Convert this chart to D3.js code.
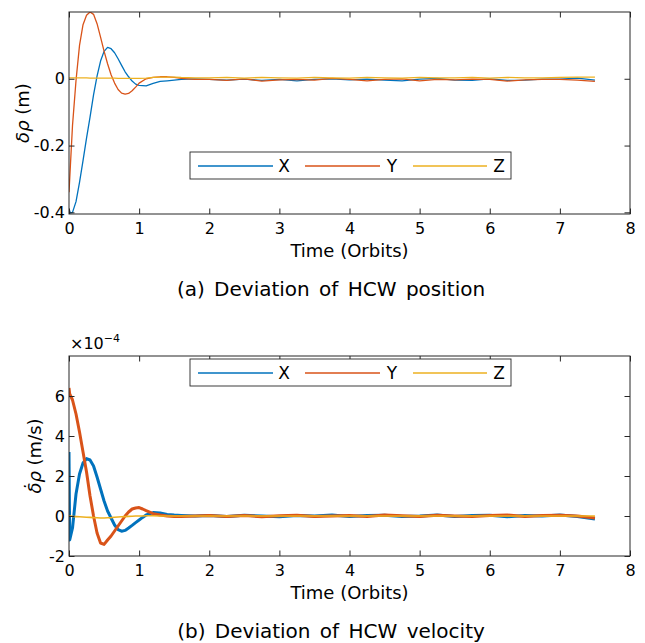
<!DOCTYPE html>
<html lang="en">
<head>
    <meta charset="UTF-8">
    <script src="https://d3js.org/d3.v7.min.js" charset="utf-8"></script>
    <title>HCW deviation</title>
    <style>
        body { margin: 0; background: #fff; }
        svg text { font-family: "DejaVu Sans", sans-serif; fill: #000; }
    </style>
</head>
<body>
<div id="vis"></div>
<script>
    // ---- data ----
    var seriesNames = ["X", "Y", "Z"],
        seriesColors = ["#0072BD", "#D95319", "#EDB120"],
        xTicks = [0, 1, 2, 3, 4, 5, 6, 7, 8];

    // (a) position deviation, metres
    var posTime = [0, 0.02, 0.05, 0.1, 0.15, 0.2, 0.25, 0.3, 0.35, 0.4, 0.45, 0.5, 0.55, 0.6, 0.65, 0.7, 0.75, 0.8, 0.85, 0.9, 0.95, 1.0, 1.1, 1.2, 1.3, 1.4, 1.5, 1.6, 1.8,
                   2.0, 2.25, 2.5, 2.75, 3.0, 3.25, 3.5, 3.75, 4.0, 4.25, 4.5, 4.75, 5.0, 5.25, 5.5, 5.75, 6.0, 6.25, 6.5, 6.75, 7.0, 7.25, 7.5];
    var posX = [-0.39, -0.402, -0.40, -0.368, -0.31, -0.245, -0.178, -0.115, -0.048, 0.008, 0.053, 0.082, 0.094, 0.09, 0.078, 0.06, 0.04, 0.021, 0.006, -0.007, -0.016, -0.02, -0.021, -0.014, -0.008, -0.006, -0.004, -0.002, 0.0,
                -0.002, -0.004, -0.001, -0.005, -0.002, -0.006, -0.002, 0.0, -0.003, -0.001, -0.004, -0.006, -0.001, 0.001, -0.004, -0.005, 0.0, -0.005, -0.004, -0.001, -0.001, 0.002, -0.004];
    var posY = [-0.34, -0.26, -0.14, -0.005, 0.10, 0.162, 0.19, 0.2, 0.193, 0.165, 0.125, 0.083, 0.045, 0.012, -0.013, -0.032, -0.043, -0.046, -0.044, -0.036, -0.025, -0.013, 0.0, 0.004, 0.006, 0.006, 0.004, 0.001, -0.002,
                -0.002, -0.005, 0.0, -0.007, -0.003, -0.002, -0.004, 0.001, -0.002, -0.006, -0.002, 0.0, -0.006, -0.002, -0.003, -0.001, -0.002, -0.007, -0.003, -0.002, -0.002, -0.004, -0.008];
    var posZ = [0.003, 0.003, 0.003, 0.003, 0.003, 0.003, 0.003, 0.002, 0.002, 0.002, 0.002, 0.002, 0.002, 0.002, 0.002, 0.001, 0.001, 0.001, 0.001, 0.001, 0.001, 0.001, 0.002, 0.004, 0.005, 0.005, 0.005, 0.004, 0.003,
                0.003, 0.004, 0.002, 0.004, 0.003, 0.002, 0.004, 0.003, 0.002, 0.004, 0.003, 0.002, 0.004, 0.003, 0.003, 0.004, 0.002, 0.004, 0.003, 0.003, 0.004, 0.005, 0.005];
    var posTicks = [-0.4, -0.2, 0];

    // (b) velocity deviation, units of 1e-4 m/s
    var velTime = [0, 0.01, 0.05, 0.1, 0.15, 0.2, 0.25, 0.3, 0.35, 0.4, 0.45, 0.5, 0.55, 0.6, 0.65, 0.7, 0.75, 0.8, 0.85, 0.9, 0.95, 1.0, 1.05, 1.1, 1.2, 1.3, 1.4, 1.5, 1.6, 1.8,
                   2.0, 2.25, 2.5, 2.75, 3.0, 3.25, 3.5, 3.75, 4.0, 4.25, 4.5, 4.75, 5.0, 5.25, 5.5, 5.75, 6.0, 6.25, 6.5, 6.75, 7.0, 7.25, 7.5];
    var velX = [3.2, -1.2, -0.6, 1.1, 2.1, 2.65, 2.87, 2.8, 2.5, 1.95, 1.35, 0.75, 0.25, -0.1, -0.45, -0.68, -0.76, -0.72, -0.6, -0.47, -0.33, -0.2, -0.07, 0.05, 0.17, 0.15, 0.08, 0.05, 0.03, 0.0,
                0.02, -0.03, 0.04, 0.0, -0.04, 0.03, 0.0, 0.05, -0.03, 0.02, 0.04, -0.02, 0.0, 0.05, -0.03, 0.03, 0.04, -0.04, 0.02, 0.0, 0.05, -0.02, -0.15];
    var velY = [6.4, 6.1, 5.8, 5.1, 4.2, 3.2, 2.2, 1.0, 0.0, -0.85, -1.35, -1.42, -1.2, -1.0, -0.75, -0.5, -0.25, 0.0, 0.2, 0.35, 0.4, 0.42, 0.35, 0.27, 0.12, 0.05, 0.0, -0.03, -0.03, 0.0,
                0.02, -0.02, 0.03, -0.04, 0.01, 0.04, -0.03, 0.0, 0.03, -0.02, 0.05, 0.01, -0.03, 0.04, 0.0, -0.03, 0.02, 0.05, -0.02, 0.03, 0.04, 0.0, -0.1];
    var velZ = [0.0, 0.0, -0.02, -0.03, -0.04, -0.05, -0.06, -0.07, -0.08, -0.09, -0.1, -0.1, -0.09, -0.08, -0.06, -0.05, -0.04, -0.03, -0.02, -0.01, 0.0, 0.0, 0.0, 0.01, 0.01, 0.0, 0.0, 0.0, 0.0, 0.0,
                0.0, 0.0, 0.0, 0.0, 0.0, 0.0, 0.0, 0.0, 0.0, 0.0, 0.0, 0.0, 0.0, 0.0, 0.0, 0.0, 0.0, 0.0, 0.0, 0.0, 0.0, 0.0, 0.0];
    var velTicks = [-2, 0, 2, 4, 6];

    // ---- layout ----
    var width = 645, height = 643,
        left = 69, right = 630, tick = 5.5,
        axisColor = "#262626",
        font = '"DejaVu Sans", sans-serif';

    var svg = d3.select("#vis").append("svg").attr("width", width).attr("height", height);

    var x = d3.scaleLinear().domain([0, 8]).range([left, right]);

    function panel(id, top, bottom, yDomain, yTicks, yFmt, time, series, lineWidths, legendTop, yLabel, labelX, caption) {
        var y = d3.scaleLinear().domain(yDomain).range([bottom, top]);
        var g = svg.append("g");

        g.append("clipPath").attr("id", id).append("rect")
            .attr("x", left).attr("y", top).attr("width", right - left).attr("height", bottom - top);

        var line = d3.line().x(function(d){ return x(d[0]); }).y(function(d){ return y(d[1]); });
        var lines = g.append("g").attr("clip-path", "url(#" + id + ")");
        series.forEach(function(vals, i) {
            lines.append("path")
                .datum(time.map(function(t, k){ return [t, vals[k]]; }))
                .attr("d", line)
                .style("fill", "none")
                .style("stroke", seriesColors[i])
                .style("stroke-width", lineWidths[i])
                .style("stroke-linejoin", "round");
        });

        // axes, ticks pointing inward, box on
        g.append("g").attr("transform", "translate(0," + bottom + ")")
            .call(d3.axisBottom(x).tickValues(xTicks).tickSize(-tick).tickPadding(9).tickFormat(d3.format("d")));
        g.append("g").attr("transform", "translate(0," + top + ")")
            .call(d3.axisTop(x).tickValues(xTicks).tickSize(-tick).tickFormat(""));
        g.append("g").attr("transform", "translate(" + left + ",0)")
            .call(d3.axisLeft(y).tickValues(yTicks).tickSize(-tick).tickPadding(4).tickFormat(yFmt));
        g.append("g").attr("transform", "translate(" + right + ",0)")
            .call(d3.axisRight(y).tickValues(yTicks).tickSize(-tick).tickFormat(""));
        g.selectAll(".domain").remove();
        g.selectAll("g").attr("font-family", font);
        g.selectAll(".tick line").style("stroke", axisColor);
        g.selectAll(".tick text").style("font-size", "16px").style("fill", "#000");

        g.append("rect").attr("x", left).attr("y", top).attr("width", right - left).attr("height", bottom - top)
            .style("fill", "none").style("stroke", axisColor).style("stroke-width", 1);

        // legend
        var leg = g.append("g");
        leg.append("rect").attr("x", 190).attr("y", legendTop).attr("width", 321).attr("height", 27)
            .style("fill", "#fff").style("stroke", axisColor).style("stroke-width", 0.9);
        var ly = legendTop + 14;
        [[198, 273, 284], [305, 380, 392], [413, 487, 499]].forEach(function(p, i) {
            leg.append("line").attr("x1", p[0]).attr("x2", p[1]).attr("y1", ly).attr("y2", ly)
                .style("stroke", seriesColors[i]).style("stroke-width", 1.3);
            leg.append("text").attr("x", p[2]).attr("y", ly + 6).attr("text-anchor", "middle")
                .style("font-size", "17px").text(seriesNames[i]);
        });

        // labels
        g.append("text").attr("x", (left + right) / 2).attr("y", bottom + 43).attr("text-anchor", "middle")
            .style("font-size", "18px").text("Time (Orbits)");

        var yl = g.append("text").attr("transform", "translate(" + labelX + "," + ((top + bottom) / 2) + ") rotate(-90)")
            .attr("text-anchor", "middle").style("font-size", "18px");
        yl.append("tspan").style("font-style", "italic").text(yLabel[0]);
        yl.append("tspan").text(yLabel[1]);

        g.append("text").attr("x", 331).attr("y", bottom + 82).attr("text-anchor", "middle")
            .style("font-size", "20px").style("word-spacing", "3px").text(caption);
        return y;
    }

    panel("clipA", 12, 214, [-0.405, 0.2], posTicks, function(d){ return d === 0 ? "0" : "-" + (-d).toFixed(1); },
        posTime, [posX, posY, posZ], [1.3, 1.3, 1.3], 152, ["\u03b4\u03c1", " (m)"], 29,
        "(a) Deviation of HCW position");

    panel("clipB", 356, 556, [-2, 8], velTicks, function(d){ return d < 0 ? "-" + (-d) : "" + d; },
        velTime, [velX, velY, velZ], [3.0, 3.0, 1.6], 359, ["\u03b4\u0307\u03c1", " (m/s)"], 41,
        "(b) Deviation of HCW velocity");

    // exponent of the velocity axis
    var ex = svg.append("text").attr("x", 70).attr("y", 349).style("font-size", "16px");
    ex.append("tspan").text("\u00d710");
    ex.append("tspan").attr("dy", -7).style("font-size", "11px").text("\u2212" + "4");
</script>
</body>
</html>
